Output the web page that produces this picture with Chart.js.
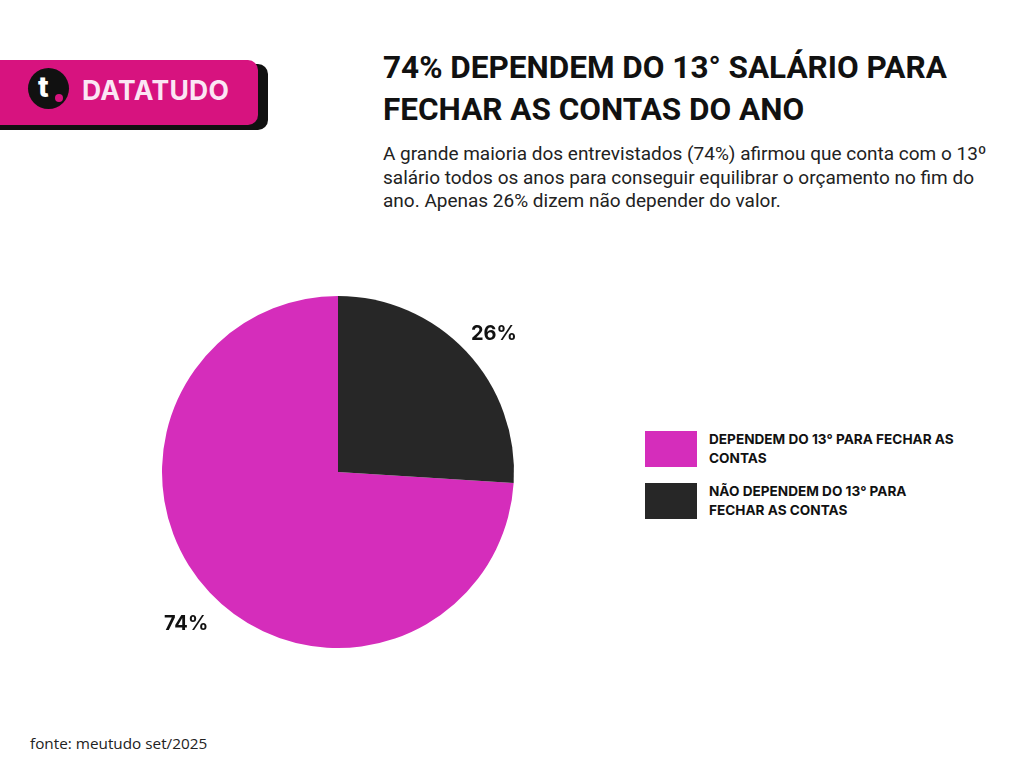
<!DOCTYPE html>
<html>
<head>
<meta charset="utf-8">
<script src="https://cdn.jsdelivr.net/npm/chart.js@4.4.1/dist/chart.umd.min.js"></script>
<style>
  html, body { margin: 0; padding: 0; background: #ffffff; }
  body { width: 1024px; height: 768px; position: relative; overflow: hidden; font-family: Roboto, sans-serif; }
  .logo-shadow { position: absolute; left: -20px; top: 64px; width: 288px; height: 66px; background: #111; border-radius: 10px; }
  .logo { position: absolute; left: -20px; top: 60px; width: 278px; height: 65px; background: #d7137f; border-radius: 10px; }
  .logo-circle { position: absolute; left: 28px; top: 68px; width: 41px; height: 41px; background: #111; border-radius: 50%; }
  .logo-t { position: absolute; left: 38px; top: 70px; font: 800 28px Inter, sans-serif; color: #fff; }
  .logo-dot { position: absolute; left: 55px; top: 94px; width: 8px; height: 8px; border-radius: 50%; background: #d7137f; }
  .logo-text { position: absolute; left: 82px; top: 74px; font: 700 26.5px Inter, sans-serif; color: #fbe6f4; letter-spacing: 0.3px; }
  .title { position: absolute; left: 383px; top: 47px; font: 700 31.5px Roboto, sans-serif; line-height: 42px; color: #111; white-space: nowrap; }
  .sub { position: absolute; left: 383px; top: 142px; font: 400 19px Roboto, sans-serif; line-height: 23.5px; color: #222; white-space: nowrap; }
  .chart-box { position: absolute; left: 138px; top: 272px; width: 400px; height: 400px; }
  .legend { position: absolute; left: 645px; top: 431px; }
  .legend-item { position: relative; height: 52px; }
  .legend-box { position: absolute; left: 0; top: 0; width: 52px; height: 36px; }
  .legend-text { position: absolute; left: 64px; top: -1px; font: 700 13.6px Inter, sans-serif; line-height: 19px; color: #111; white-space: nowrap; }
  .footer { position: absolute; left: 30px; top: 733px; font: 400 15.3px "Open Sans", sans-serif; color: #222; }
</style>
</head>
<body>
<div class="logo-shadow"></div>
<div class="logo"></div>
<div class="logo-circle"></div>
<div class="logo-t">t</div>
<div class="logo-dot"></div>
<div class="logo-text">DATATUDO</div>

<div class="title">74% DEPENDEM DO 13° SALÁRIO PARA<br>FECHAR AS CONTAS DO ANO</div>
<div class="sub">A grande maioria dos entrevistados (74%) afirmou que conta com o 13º<br>salário todos os anos para conseguir equilibrar o orçamento no fim do<br>ano. Apenas 26% dizem não depender do valor.</div>

<div class="chart-box"><canvas id="c" width="400" height="400"></canvas></div>
<div class="legend" id="legend"></div>
<div class="footer">fonte: meutudo set/2025</div>

<script>
const categories = ["DEPENDEM DO 13° PARA FECHAR AS CONTAS", "NÃO DEPENDEM DO 13° PARA FECHAR AS CONTAS"];
const legendLines = [["DEPENDEM DO 13° PARA FECHAR AS", "CONTAS"], ["NÃO DEPENDEM DO 13° PARA", "FECHAR AS CONTAS"]];
const values = [74, 26];
const colors = ["#d52dbb", "#272727"];

// magenta slice ends at 12 o'clock; dark slice starts there
const rotation = 360 * values[1] / (values[0] + values[1]);

const labelPlugin = {
  id: 'outerLabels',
  afterDatasetsDraw(chart) {
    const ctx = chart.ctx;
    const meta = chart.getDatasetMeta(0);
    ctx.save();
    ctx.font = '700 20px Inter, sans-serif';
    ctx.fillStyle = '#111';
    ctx.textAlign = 'center';
    ctx.textBaseline = 'middle';
    meta.data.forEach((arc, i) => {
      const p = arc.getProps(['x', 'y', 'startAngle', 'endAngle', 'outerRadius'], true);
      const mid = (p.startAngle + p.endAngle) / 2;
      const r = p.outerRadius * 1.2;
      ctx.fillText(values[i] + '%', p.x + Math.cos(mid) * r + 2, p.y + Math.sin(mid) * r + 7);
    });
    ctx.restore();
  }
};

new Chart(document.getElementById('c'), {
  type: 'pie',
  data: {
    labels: categories,
    datasets: [{ data: values, backgroundColor: colors, borderWidth: 0 }]
  },
  options: {
    responsive: false,
    animation: false,
    rotation: rotation,
    layout: { padding: 24 },
    plugins: { legend: { display: false }, tooltip: { enabled: false } }
  },
  plugins: [labelPlugin]
});

const legend = document.getElementById('legend');
categories.forEach((c, i) => {
  const item = document.createElement('div');
  item.className = 'legend-item';
  const box = document.createElement('div');
  box.className = 'legend-box';
  box.style.background = colors[i];
  const txt = document.createElement('div');
  txt.className = 'legend-text';
  txt.innerHTML = legendLines[i].join('<br>');
  item.appendChild(box);
  item.appendChild(txt);
  legend.appendChild(item);
});
</script>
</body>
</html>
